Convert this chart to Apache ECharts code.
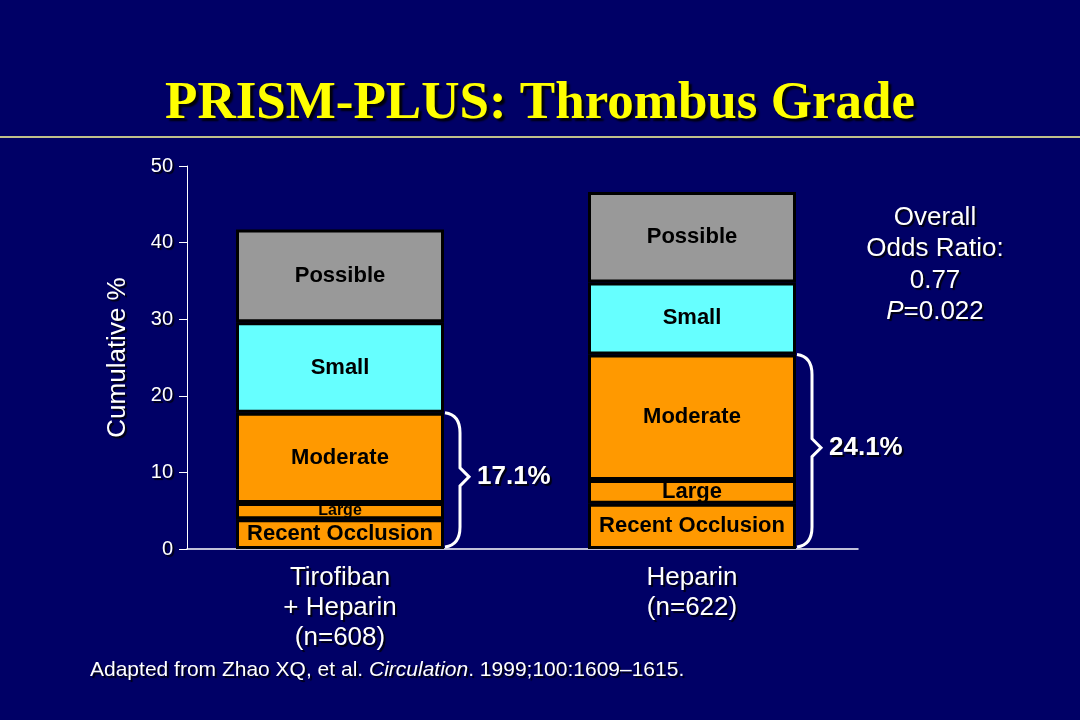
<!DOCTYPE html>
<html>
<head>
<meta charset="utf-8">
<script src="https://cdn.jsdelivr.net/npm/echarts@6/dist/echarts.min.js"></script>
<style>
html,body{margin:0;padding:0;background:#000066;}
#chart{width:1080px;height:720px;}
</style>
</head>
<body>
<div id="chart"></div>
<script>
// ---- data ----
const categories = ['Tirofiban\n+ Heparin\n(n=608)', 'Heparin\n(n=622)'];
const recentOcclusion = [3.9, 5.9];
const large = [2.1, 3.1];
const moderate = [11.8, 16.4];
const small = [11.8, 9.4];
const possible = [12.1, 11.8];
const braceLabels = ['17.1%', '24.1%'];
const yMin = 0, yMax = 50, yInterval = 10;
const titleText = 'PRISM-PLUS: Thrombus Grade';
const oddsLines = ['Overall', 'Odds Ratio:', '0.77'];
const pValue = '=0.022';

const chart = echarts.init(document.getElementById('chart'));
const FONT = 'Arial, "Liberation Sans", sans-serif';
const BAR_W = 208;
const shadow = {textShadowColor: 'rgba(0,0,0,0.85)', textShadowOffsetX: 2, textShadowOffsetY: 2, textShadowBlur: 1};

const braceData = categories.map((c, i) => [i, recentOcclusion[i] + large[i] + moderate[i]]);

function barSeries(name, data, color, extraLabel) {
  return {
    name: name, type: 'bar', stack: 'grade', xAxisIndex: 1, yAxisIndex: 1,
    barWidth: BAR_W, data: data.map((v, i) => {
      const d = {value: v};
      if (extraLabel && extraLabel[i]) d.label = extraLabel[i];
      return d;
    }),
    itemStyle: {color: color, borderColor: '#000', borderWidth: 3},
    label: {show: true, position: 'inside', formatter: name, color: '#000',
      fontFamily: FONT, fontWeight: 'bold', fontSize: 22},
    emphasis: {disabled: true}, animation: false
  };
}

const option = {
  backgroundColor: '#000066',
  animation: false,
  grid: [
    {left: 187, right: 222, top: 166, bottom: 171},
    {left: 164, right: 212, top: 166, bottom: 171}
  ],
  xAxis: [
    {type: 'category', gridIndex: 0, data: categories,
      axisLine: {lineStyle: {color: '#fff', width: 1.5}}, axisTick: {show: false}, axisLabel: {show: false}},
    {type: 'category', gridIndex: 1, data: categories,
      axisLine: {show: false}, axisTick: {show: false},
      axisLabel: {color: '#fff', fontFamily: FONT, fontSize: 26, lineHeight: 30, margin: 14, ...shadow}}
  ],
  yAxis: [
    {type: 'value', gridIndex: 0, min: yMin, max: yMax, interval: yInterval,
      name: 'Cumulative %', nameLocation: 'middle', nameGap: 56,
      nameTextStyle: {color: '#fff', fontFamily: FONT, fontSize: 26, ...shadow},
      axisLine: {show: true, lineStyle: {color: '#fff', width: 1}},
      axisTick: {show: true, length: 8, lineStyle: {color: '#fff'}},
      axisLabel: {color: '#fff', fontFamily: FONT, fontSize: 20, margin: 14, ...shadow},
      splitLine: {show: false}},
    {type: 'value', gridIndex: 1, min: yMin, max: yMax, interval: yInterval, show: false, splitLine: {show: false}}
  ],
  series: [
    barSeries('Recent Occlusion', recentOcclusion, '#FF9900'),
    barSeries('Large', large, '#FF9900', [{fontSize: 16}, null]),
    barSeries('Moderate', moderate, '#FF9900'),
    barSeries('Small', small, '#66FFFF'),
    barSeries('Possible', possible, '#999999'),
    {
      type: 'custom', xAxisIndex: 1, yAxisIndex: 1, data: braceData, z: 5,
      renderItem: function (params, api) {
        const idx = api.value(0);
        const top = api.coord([idx, api.value(1)]);
        const bot = api.coord([idx, 0]);
        const x0 = top[0] + BAR_W / 2 + 1;
        const y0 = top[1];
        const y1 = bot[1] - 2;
        const ym = (y0 + y1) / 2 - 3;
        const xv = x0 + 15, xt = x0 + 24;
        const p = 'M' + x0 + ' ' + y0 + ' Q' + xv + ' ' + (y0 + 2) + ' ' + xv + ' ' + (y0 + 20) +
          ' L' + xv + ' ' + (ym - 9) + ' L' + xt + ' ' + ym + ' L' + xv + ' ' + (ym + 9) +
          ' L' + xv + ' ' + (y1 - 20) + ' Q' + xv + ' ' + (y1 - 2) + ' ' + x0 + ' ' + y1;
        return {
          type: 'group',
          children: [
            {type: 'path', shape: {pathData: p}, style: {stroke: '#fff', lineWidth: 3, fill: null}},
            {type: 'text', style: {x: x0 + 32, y: ym, text: braceLabels[idx], fill: '#fff',
              font: 'bold 26px ' + FONT, align: 'left', verticalAlign: 'middle', ...shadow}}
          ]
        };
      },
      animation: false, silent: true
    }
  ],
  graphic: [
    {type: 'text', left: 'center', top: 78, style: {text: titleText, fill: '#FFFF00',
      font: 'bold 53px "Liberation Serif", "Times New Roman", serif',
      textShadowColor: 'rgba(0,0,0,0.9)', textShadowOffsetX: 3, textShadowOffsetY: 3, textShadowBlur: 2}},
    {type: 'line', shape: {x1: 0, y1: 137, x2: 1080, y2: 137}, style: {stroke: '#FFFF99', lineWidth: 1.5}},
    {type: 'text', x: 935, y: 202, style: {
      text: oddsLines.join('\n') + '\n{i|P}' + pValue, fill: '#fff', font: '26px ' + FONT,
      align: 'center', lineHeight: 31.5, ...shadow,
      rich: {i: {fontStyle: 'italic', fontSize: 26, fontFamily: FONT, fill: '#fff', lineHeight: 31.5}}}},
    {type: 'text', x: 90, y: 670, style: {
      text: 'Adapted from Zhao XQ, et al. {i|Circulation}. 1999;100:1609\u20131615.', fill: '#fff',
      font: '21px ' + FONT, verticalAlign: 'middle', ...shadow,
      rich: {i: {fontStyle: 'italic', fontSize: 21, fontFamily: FONT, fill: '#fff'}}}}
  ]
};
chart.setOption(option);
</script>
</body>
</html>
